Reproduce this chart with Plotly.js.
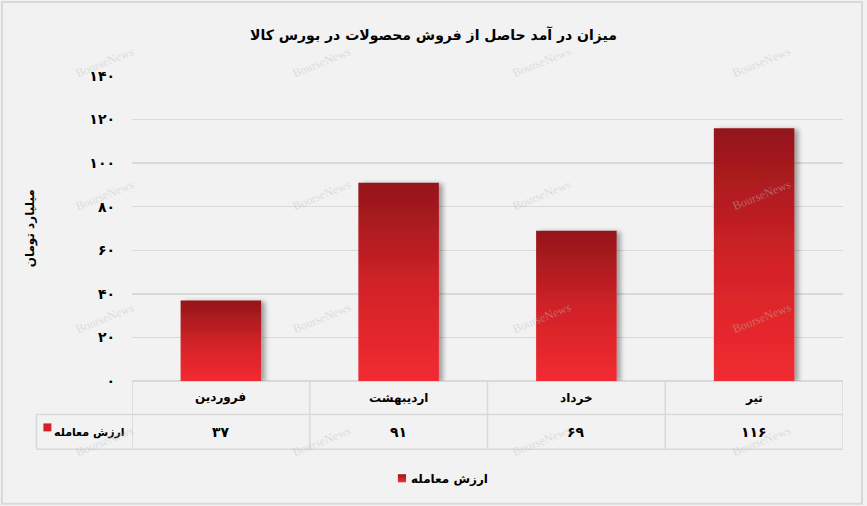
<!DOCTYPE html>
<html>
<head>
<meta charset="utf-8">
<script src="https://cdn.plot.ly/plotly-3.0.1.min.js"></script>
<style>
html,body{margin:0;padding:0;background:#f2f2f2;}
#chart{width:867px;height:506px;}
</style>
</head>
<body>
<div id="chart"></div>
<script>
// ---- data ----
const categories = ['فروردین', 'اردیبهشت', 'خرداد', 'تیر'];
const values = [37, 91, 69, 116];
const seriesName = 'ارزش معامله';
const tickValues = [0, 20, 40, 60, 80, 100, 120, 140];
const titleText = 'میزان در آمد حاصل از فروش محصولات در بورس کالا';
const yTitleText = 'میلیارد تومان';

// ---- helpers ----
const faDigits = ['۰','۱','۲','۳','۴','۵','۶','۷','۸','۹'];
function toFa(n){ return String(n).replace(/[0-9]/g, d => faDigits[+d]); }

const W = 867, H = 506;
const L = 131.7, R = 843.5, T = 75.7, B = 381.5;
const PW = R - L, PH = B - T;
function px(x){ return (x - L) / PW; }
function py(y){ return (B - y) / PH; }

const FONT = 'DejaVu Sans';
const gridCol = '#d9d9d9';

const shapes = [];
const annotations = [];

// outer frame
shapes.push({type:'rect', xref:'paper', yref:'paper', x0:px(1.5), x1:px(W-4.5), y0:py(1.5), y1:py(H-1.5),
  line:{color:'#d9d9d9', width:2}, fillcolor:'rgba(0,0,0,0)', layer:'below'});

// data table
const rowTop = 381.5, rowMid = 415, rowBot = 450, leftOuter = 36;
shapes.push({type:'line', xref:'paper', yref:'paper', x0:px(leftOuter), x1:px(R), y0:py(rowMid), y1:py(rowMid), line:{color:gridCol, width:1.5}});
shapes.push({type:'line', xref:'paper', yref:'paper', x0:px(leftOuter), x1:px(R), y0:py(rowBot), y1:py(rowBot), line:{color:gridCol, width:1.5}});
for (let i = 0; i <= categories.length; i++) {
  shapes.push({type:'line', xref:'x', yref:'paper', x0:i-0.5, x1:i-0.5, y0:py(rowTop), y1:py(rowBot), line:{color:gridCol, width:1.5}});
}
shapes.push({type:'line', xref:'paper', yref:'paper', x0:px(leftOuter), x1:px(leftOuter), y0:py(rowMid), y1:py(rowBot), line:{color:gridCol, width:1.5}});
// series key in table
shapes.push({type:'rect', xref:'paper', yref:'paper', x0:px(43), x1:px(51), y0:py(424), y1:py(432),
  line:{width:0}, fillcolor:'#d42127'});
annotations.push({xref:'paper', yref:'paper', x:px(127), y:py(433), xanchor:'right', yanchor:'middle',
  text:'<b>'+seriesName+'</b>', showarrow:false, font:{family:FONT, size:11, color:'#000'}});

categories.forEach((c, i) => {
  annotations.push({xref:'x', yref:'paper', x:i, y:py((rowTop+rowMid)/2), xanchor:'center', yanchor:'middle',
    text:'<b>'+c+'</b>', showarrow:false, font:{family:FONT, size:12, color:'#000'}});
  annotations.push({xref:'x', yref:'paper', x:i, y:py((rowMid+rowBot)/2), xanchor:'center', yanchor:'middle',
    text:'<b>'+toFa(values[i])+'</b>', showarrow:false, font:{family:FONT, size:14, color:'#000'}});
});

// y axis title
annotations.push({xref:'paper', yref:'paper', x:px(30), y:py(228), xanchor:'center', yanchor:'middle',
  text:'<b>'+yTitleText+'</b>', textangle:-90, showarrow:false, font:{family:FONT, size:12, color:'#000'}});

// watermarks
const wmX = [105, 322, 542, 762];
const wmY = [62, 195, 318, 442];
wmY.forEach(y => wmX.forEach(x => {
  annotations.push({xref:'paper', yref:'paper', x:px(x), y:py(y), xanchor:'center', yanchor:'middle',
    text:'BourseNews', textangle:-22, showarrow:false, font:{family:'Liberation Serif', size:12, color:'rgba(190,190,190,0.45)'}});
}));

const trace = {
  type:'bar', x:categories, y:values, name:'<b>'+seriesName+'</b>',
  marker:{color:'#d42127', line:{width:0}},
  hoverinfo:'skip', showlegend:true
};

const layout = {
  width:W, height:H,
  paper_bgcolor:'#f2f2f2', plot_bgcolor:'#f2f2f2',
  margin:{l:L, r:W-R, t:T, b:H-B, pad:0},
  title:{text:'<b>'+titleText+'</b>', x:0.5, xref:'container', xanchor:'center', y:1-35/H, yanchor:'middle', yref:'container',
    font:{family:FONT, size:14, color:'#000'}},
  bargap:0.547,
  xaxis:{type:'category', range:[-0.5, 3.5], showticklabels:false, showgrid:false, zeroline:false, showline:false, ticks:'', fixedrange:true},
  yaxis:{range:[0, 140], tickvals:tickValues, ticktext:tickValues.map(v => '<b>'+toFa(v)+'</b>'), showgrid:true, gridcolor:gridCol, gridwidth:1.5,
    zeroline:true, zerolinecolor:gridCol, zerolinewidth:1.5, showline:false, ticks:'', ticklabelstandoff:16,
    tickfont:{family:FONT, size:14, color:'#000'}, fixedrange:true},
  showlegend:true,
  legend:{orientation:'h', x:px(443), xanchor:'center', y:py(479), yanchor:'middle',
    bgcolor:'rgba(0,0,0,0)', font:{family:FONT, size:12, color:'#000'}, itemwidth:30},
  shapes:shapes, annotations:annotations
};

Plotly.newPlot('chart', [trace], layout, {displayModeBar:false, staticPlot:true}).then(gd => {
  const svg = gd.querySelector('svg.main-svg');
  const ns = 'http://www.w3.org/2000/svg';
  let defs = svg.querySelector('defs');
  if (!defs) { defs = document.createElementNS(ns, 'defs'); svg.insertBefore(defs, svg.firstChild); }
  defs.insertAdjacentHTML('beforeend',
    '<linearGradient id="barGrad" x1="0" y1="0" x2="0" y2="1">' +
      '<stop offset="0" stop-color="#93161a"/><stop offset="0.55" stop-color="#d42328"/><stop offset="1" stop-color="#f22b31"/>' +
    '</linearGradient>' +
    '<filter id="barShadow" x="-20%" y="-10%" width="150%" height="120%">' +
      '<feGaussianBlur in="SourceAlpha" stdDeviation="2.5"/><feOffset dx="4" dy="1" result="ob"/>' +
      '<feComponentTransfer><feFuncA type="linear" slope="0.35"/></feComponentTransfer>' +
      '<feMerge><feMergeNode/><feMergeNode in="SourceGraphic"/></feMerge>' +
    '</filter>');
  gd.querySelectorAll('.barlayer .point path').forEach(p => {
    p.style.fill = 'url(#barGrad)';
    p.setAttribute('filter', 'url(#barShadow)');
  });
  // legend: smaller key square, text closer to it (style only)
  gd.querySelectorAll('.legend .legendpoints path').forEach(p => {
    p.style.fill = 'url(#barGrad)';
    const t = p.getAttribute('transform') || '';
    p.setAttribute('transform', t + ' scale(0.68)');
  });
  gd.querySelectorAll('.legend text.legendtext').forEach(t => {
    t.setAttribute('x', String(parseFloat(t.getAttribute('x')) - 11));
  });
});
</script>
</body>
</html>
